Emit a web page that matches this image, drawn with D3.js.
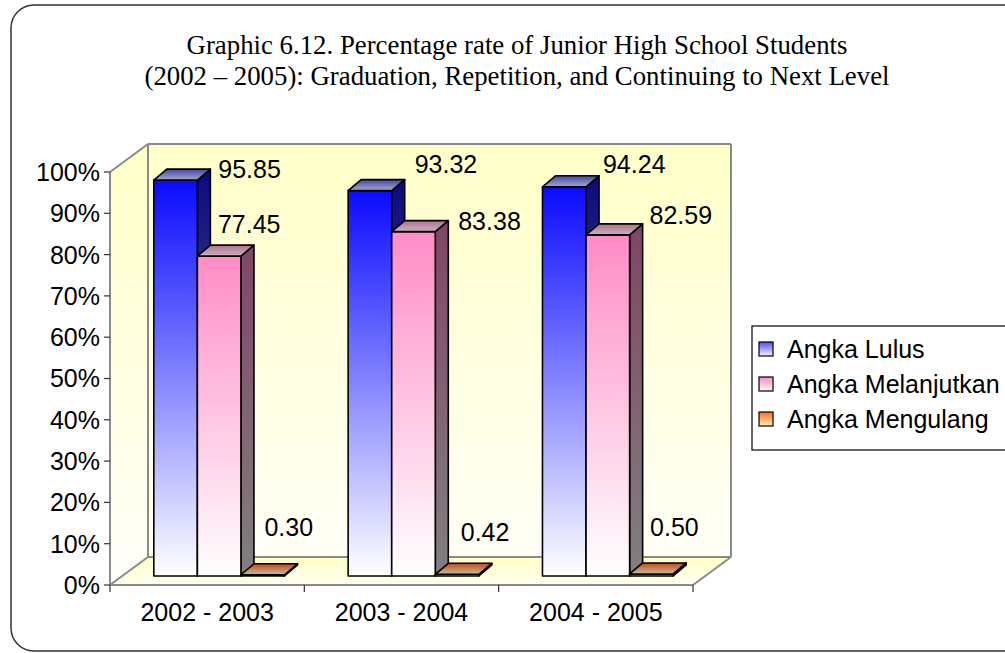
<!DOCTYPE html>
<html>
<head>
<meta charset="utf-8">
<script src="https://cdn.jsdelivr.net/npm/d3@7/dist/d3.min.js"></script>
<style>
  html, body { margin: 0; padding: 0; background: #ffffff; }
  svg { display: block; }
  text { font-family: "Liberation Sans", Arial, sans-serif; fill: #000; }
  .title { font-family: "Liberation Serif", "Times New Roman", serif; }
</style>
</head>
<body>
<script>
// ---- data ----
const categories = ["2002 - 2003", "2003 - 2004", "2004 - 2005"];
const seriesNames = ["Angka Lulus", "Angka Melanjutkan", "Angka Mengulang"];
const angkaLulus = [95.85, 93.32, 94.24];
const angkaMelanjutkan = [77.45, 83.38, 82.59];
const angkaMengulang = [0.30, 0.42, 0.50];
const yTickValues = [0, 10, 20, 30, 40, 50, 60, 70, 80, 90, 100];
const titleLines = [
  "Graphic 6.12. Percentage rate of Junior High School Students",
  "(2002 \u2013 2005): Graduation, Repetition, and Continuing to Next Level"
];

const seriesValues = [angkaLulus, angkaMelanjutkan, angkaMengulang];

// ---- layout ----
const W = 1005, H = 653;
const front = { left: 110, right: 693, bottom: 585, top: 172 };
const wallDepth = { dx: 38, dy: -28 };      // offset of the back wall
const barFront = { dx: 12, dy: -9 };        // offset of the bar front faces
const barDepth = { dx: 13, dy: -11 };       // thickness of each bar
const fontSize = 25;

// per-label nudges (dx, dy) from bar front-centre / bar top
const labelNudge = [
  [[74, -11], [30, -32], [26, -48]],
  [[76, -27], [76, -11], [28, -42]],
  [[70, -23], [73, -20], [23, -47]]
];

const palette = [
  { front: ["#0a0aff", "#ffffff"], side: ["#0a0a80", "#808080"], top: ["#4545a8", "#a8a8c8"],
    swatch: ["#4d4dff", "#f4f4ff"] },
  { front: ["#ff8cc6", "#ffffff"], side: ["#804663", "#808080"], top: ["#b07090", "#cab4c0"],
    swatch: ["#ff8cc6", "#fff4fa"] },
  { front: ["#ff6a2a", "#ffeeaa"], side: ["#803515", "#807755"], top: ["#c04a25", "#c8bc8c"],
    swatch: ["#ff6a2a", "#fff0b0"] }
];

const svg = d3.select("body").append("svg")
  .attr("width", W).attr("height", H);

const defs = svg.append("defs");
function vGrad(id, c0, c1) {
  const g = defs.append("linearGradient").attr("id", id)
    .attr("x1", 0).attr("y1", 0).attr("x2", 0).attr("y2", 1);
  g.append("stop").attr("offset", "0%").attr("stop-color", c0);
  g.append("stop").attr("offset", "100%").attr("stop-color", c1);
}
palette.forEach((p, i) => {
  vGrad("front" + i, p.front[0], p.front[1]);
  vGrad("side" + i, p.side[0], p.side[1]);
  vGrad("top" + i, p.top[0], p.top[1]);
  vGrad("sw" + i, p.swatch[0], p.swatch[1]);
});
vGrad("floor", "#ffffc4", "#fffff0");

// outer frame
svg.append("rect")
  .attr("x", 11).attr("y", 5).attr("width", 1040).attr("height", 646)
  .attr("rx", 23).attr("ry", 23)
  .attr("fill", "#ffffff").attr("stroke", "#333333").attr("stroke-width", 1.5);

// title
svg.append("text").attr("class", "title")
  .attr("text-anchor", "middle")
  .attr("font-size", 26.8)
  .selectAll("tspan").data(titleLines).join("tspan")
  .attr("x", 517).attr("y", (d, i) => 54 + i * 31)
  .text(d => d);

// scales
const x0 = d3.scaleBand().domain(categories).range([front.left, front.right]);
const x1 = d3.scaleBand().domain(seriesNames).range([0, x0.bandwidth()]).paddingOuter(0.73);
const y = d3.scaleLinear().domain([0, 100]).range([front.bottom, front.top]);

const g = svg.append("g");

// back wall
const bx0 = front.left + wallDepth.dx, bx1 = front.right + wallDepth.dx;
const by0 = y(100) + wallDepth.dy, by1 = y(0) + wallDepth.dy;
const wallGrad = defs.append("linearGradient").attr("id", "wallU")
  .attr("gradientUnits", "userSpaceOnUse")
  .attr("x1", 0).attr("y1", by0).attr("x2", 0).attr("y2", y(0));
wallGrad.append("stop").attr("offset", "0%").attr("stop-color", "#ffffc8");
wallGrad.append("stop").attr("offset", "100%").attr("stop-color", "#fffffa");

g.append("rect")
  .attr("x", bx0).attr("y", by0).attr("width", bx1 - bx0).attr("height", by1 - by0)
  .attr("fill", "url(#wallU)").attr("stroke", "none");
// side wall
g.append("path")
  .attr("d", `M${front.left},${y(100)}L${bx0},${by0}L${bx0},${by1}L${front.left},${y(0)}Z`)
  .attr("fill", "url(#wallU)");
// floor
g.append("path")
  .attr("d", `M${front.left},${y(0)}L${bx0},${by1}L${bx1},${by1}L${front.right},${y(0)}Z`)
  .attr("fill", "url(#floor)");

// wall edges
const edge = { stroke: "#8a8a8a", width: 2 };
const edges = [
  [[front.left, y(100)], [bx0, by0]],
  [[bx0, by0], [bx1, by0]],
  [[bx1, by0], [bx1, by1]],
  [[bx0, by0], [bx0, by1]],
  [[front.left, y(0)], [bx0, by1]],
  [[bx0, by1], [bx1, by1]],
  [[front.right, y(0)], [bx1, by1]]
];
g.selectAll("line.edge").data(edges).join("line")
  .attr("class", "edge")
  .attr("x1", d => d[0][0]).attr("y1", d => d[0][1])
  .attr("x2", d => d[1][0]).attr("y2", d => d[1][1])
  .attr("stroke", edge.stroke).attr("stroke-width", edge.width);

// bars
const bars = [];
categories.forEach((c, ci) => {
  seriesNames.forEach((s, si) => {
    bars.push({ c, ci, s, si, v: seriesValues[si][ci] });
  });
});

const barG = g.append("g");
bars.forEach(b => {
  const xl = x0(b.c) + x1(b.s) + barFront.dx;
  const xr = xl + x1.bandwidth();
  const yb = y(0) + barFront.dy;
  const yt = y(b.v) + barFront.dy;
  const ddx = barDepth.dx, ddy = barDepth.dy;
  const bg = barG.append("g")
    .attr("stroke", "#000").attr("stroke-width", 1.6).attr("stroke-linejoin", "round");
  // right side
  bg.append("path")
    .attr("d", `M${xr},${yt}L${xr + ddx},${yt + ddy}L${xr + ddx},${yb + ddy}L${xr},${yb}Z`)
    .attr("fill", `url(#side${b.si})`);
  // front face
  bg.append("rect")
    .attr("x", xl).attr("y", yt).attr("width", xr - xl).attr("height", Math.max(0.01, yb - yt))
    .attr("fill", `url(#front${b.si})`);
  // top face
  bg.append("path")
    .attr("d", `M${xl},${yt}L${xl + ddx},${yt + ddy}L${xr + ddx},${yt + ddy}L${xr},${yt}Z`)
    .attr("fill", `url(#top${b.si})`);
});

// value labels
g.selectAll("text.value").data(bars).join("text")
  .attr("class", "value")
  .attr("font-size", fontSize)
  .attr("text-anchor", "middle")
  .attr("x", b => x0(b.c) + x1(b.s) + x1.bandwidth() / 2 + barFront.dx + labelNudge[b.ci][b.si][0])
  .attr("y", b => y(b.v) + barFront.dy + labelNudge[b.ci][b.si][1] + fontSize * 0.358)
  .text(b => b.v.toFixed(2));

// y axis
const axisColor = "#8a8a8a";
g.append("line")
  .attr("x1", front.left).attr("x2", front.left)
  .attr("y1", y(100)).attr("y2", y(0))
  .attr("stroke", axisColor).attr("stroke-width", 2);
g.selectAll("line.ytick").data(yTickValues).join("line")
  .attr("class", "ytick")
  .attr("x1", front.left - 6).attr("x2", front.left)
  .attr("y1", d => y(d)).attr("y2", d => y(d))
  .attr("stroke", "#333").attr("stroke-width", 1.2);
g.selectAll("text.ylab").data(yTickValues).join("text")
  .attr("class", "ylab")
  .attr("font-size", fontSize)
  .attr("text-anchor", "end")
  .attr("x", front.left - 10)
  .attr("y", d => y(d) + fontSize * 0.358)
  .text(d => d + "%");

// x axis
g.append("line")
  .attr("x1", front.left).attr("x2", front.right)
  .attr("y1", y(0)).attr("y2", y(0))
  .attr("stroke", axisColor).attr("stroke-width", 2);
const xTickPos = categories.map(c => x0(c)).concat([x0(categories[categories.length - 1]) + x0.bandwidth()]);
g.selectAll("line.xtick").data(xTickPos).join("line")
  .attr("class", "xtick")
  .attr("x1", d => d).attr("x2", d => d)
  .attr("y1", y(0)).attr("y2", y(0) + 7)
  .attr("stroke", "#333").attr("stroke-width", 1.2);
g.selectAll("text.xlab").data(categories).join("text")
  .attr("class", "xlab")
  .attr("font-size", fontSize)
  .attr("text-anchor", "middle")
  .attr("x", d => x0(d) + x0.bandwidth() / 2)
  .attr("y", 621)
  .text(d => d);

// legend
const lg = svg.append("g").attr("transform", "translate(752,326)");
lg.append("rect")
  .attr("x", 0).attr("y", 0).attr("width", 280).attr("height", 124)
  .attr("fill", "#ffffff").attr("stroke", "#000").attr("stroke-width", 1.2);
const li = lg.selectAll("g.item").data(seriesNames).join("g")
  .attr("class", "item")
  .attr("transform", (d, i) => `translate(0,${23 + i * 35})`);
li.append("rect")
  .attr("x", 7).attr("y", -7).attr("width", 14).attr("height", 14)
  .attr("fill", (d, i) => `url(#sw${i})`)
  .attr("stroke", "#000").attr("stroke-width", 1.2);
li.append("text")
  .attr("x", 35).attr("y", fontSize * 0.358)
  .attr("font-size", fontSize)
  .text(d => d);
</script>
</body>
</html>
